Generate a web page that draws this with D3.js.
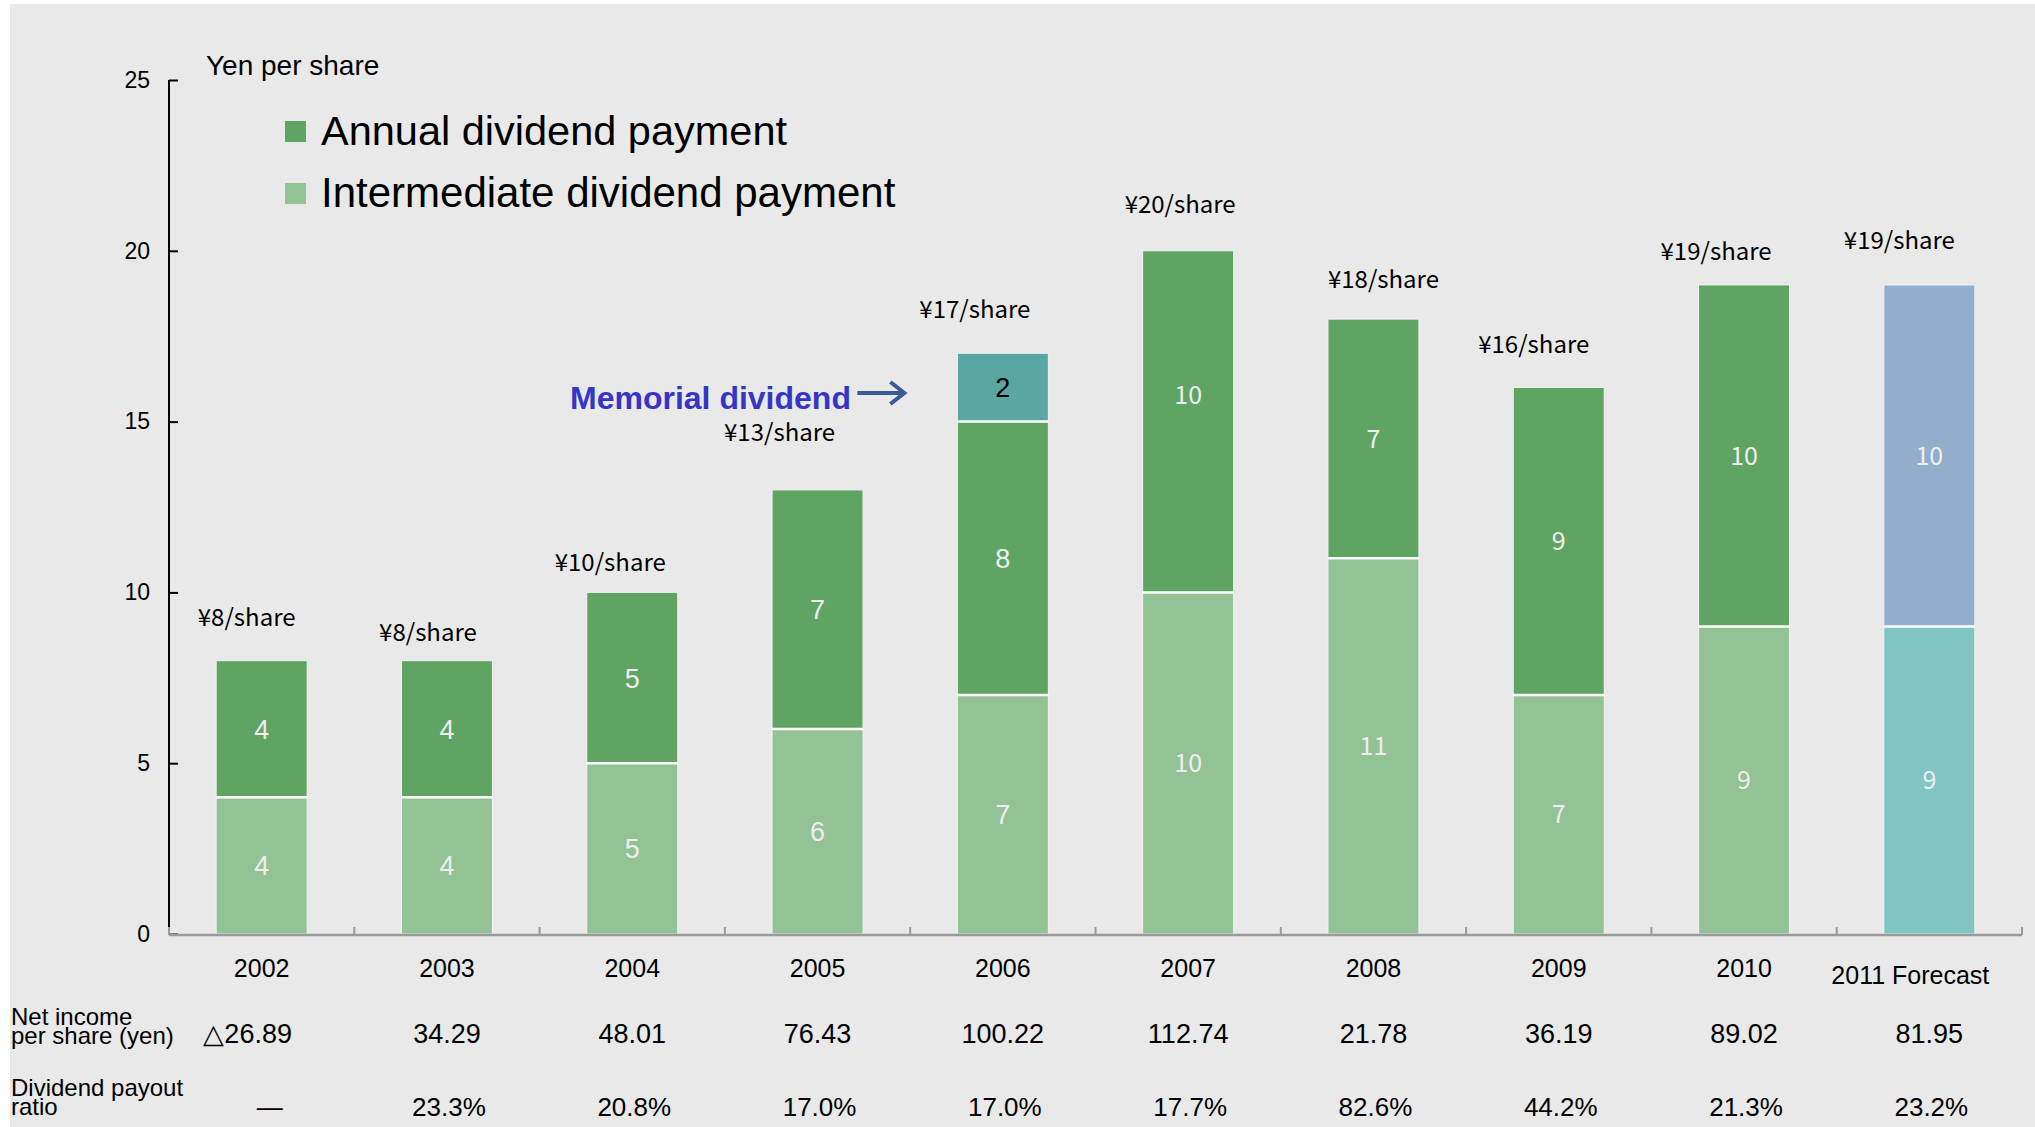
<!DOCTYPE html>
<html><head><meta charset="utf-8">
<script src="https://cdn.jsdelivr.net/npm/d3@7"></script>
<style>
html,body{margin:0;padding:0;background:#fff;}
svg{display:block;}
</style></head><body>
<svg id="c" width="2035" height="1127"></svg>
<script>
// ---------- data ----------
const categories   = ["2002","2003","2004","2005","2006","2007","2008","2009","2010","2011 Forecast"];
const intermediate = [4, 4, 5, 6, 7, 10, 11, 7, 9, 9];
const annual       = [4, 4, 5, 7, 8, 10, 7, 9, 10, 10];
const memorial     = [0, 0, 0, 0, 2, 0, 0, 0, 0, 0];
const isForecast   = [false,false,false,false,false,false,false,false,false,true];
const netIncome    = ["△26.89","34.29","48.01","76.43","100.22","112.74","21.78","36.19","89.02","81.95"];
const payoutRatio  = ["—","23.3%","20.8%","17.0%","17.0%","17.7%","82.6%","44.2%","21.3%","23.2%"];
const yTicks       = [0, 5, 10, 15, 20, 25];
const legendLabels = ["Annual dividend payment","Intermediate dividend payment"];

// ---------- layout / style (not data) ----------
const W = 2035, H = 1127;
const colors = {
  intermediate: "#93c295", annual: "#5fa463", memorial: "#5aa6a3",
  fcIntermediate: "#80c4c3", fcAnnual: "#93aecd"
};
// per-label nudges of the "¥x/share" captions, in px (dx, dy from bar top)
const capDx = [-15,-19,-22,-38,-28,-8,10,-25,-28,-30];
const capDy = [-43,-28,-30,-58,-44,-46,-40,-43,-34,-45];
// vertical nudge of the annual-segment number labels, in px
const annualLabelDy = [0,0,0,0,0,-27,0,0,0,0];

const svg = d3.select("#c");
svg.append("rect").attr("x",10).attr("y",4).attr("width",W-10).attr("height",H-4).attr("fill","#e9e9e9");

const table = categories.map((c,i)=>({cat:c, intermediate:intermediate[i], annual:annual[i], memorial:memorial[i], fc:isForecast[i], i}));
const keys = ["intermediate","annual","memorial"];
const series = d3.stack().keys(keys)(table);

const x = d3.scaleBand().domain(categories).range([169, 2022]).paddingInner(0.509).paddingOuter(0.2545);
const y = d3.scaleLinear().domain([0,25]).range([934, 80]);
const step = x.step();
const y0 = y(0);

// y axis
const yAxis = d3.axisLeft(y).tickValues(yTicks).tickSize(-9).tickPadding(19).tickFormat(d3.format("d"));
const gy = svg.append("g").attr("transform","translate(169,0)").call(yAxis);
gy.select(".domain").attr("stroke","#000").attr("stroke-width",2).attr("d",`M0,${y(25)}V${y0}`);
gy.selectAll(".tick line").attr("stroke","#000").attr("stroke-width",2);
gy.selectAll(".tick text").attr("font-family","'Liberation Sans', Arial, sans-serif").attr("font-size",23).attr("fill","#000");

// bars
const fillOf = (key, d) => {
  if (d.data.fc) return key==="annual" ? colors.fcAnnual : colors.fcIntermediate;
  return colors[key];
};
series.forEach(s => {
  const key = s.key;
  svg.append("g").selectAll("rect").data(s.filter(d => d[1]-d[0] > 0)).join("rect")
    .attr("x", d => x(d.data.cat))
    .attr("width", x.bandwidth())
    .attr("y", d => y(d[1]))
    .attr("height", d => y(d[0]) - y(d[1]))
    .attr("fill", d => fillOf(key, d))
    .attr("stroke", "#f2f2f2").attr("stroke-width", 1);
});
// white separators between segments
series.slice(1).forEach(s => {
  svg.append("g").selectAll("line").data(s.filter(d => d[1]-d[0] > 0)).join("line")
    .attr("x1", d => x(d.data.cat)).attr("x2", d => x(d.data.cat) + x.bandwidth())
    .attr("y1", d => y(d[0])).attr("y2", d => y(d[0]))
    .attr("stroke", "#ffffff").attr("stroke-width", 2.5);
});

// segment labels
series.forEach(s => {
  const key = s.key;
  svg.append("g").selectAll("text").data(s.filter(d => d[1]-d[0] > 0)).join("text")
    .attr("x", d => x(d.data.cat) + x.bandwidth()/2)
    .attr("y", d => (y(d[0]) + y(d[1]))/2 + (key === "annual" ? annualLabelDy[d.data.i] : 0))
    .attr("dy", "0.36em")
    .attr("text-anchor","middle")
    .attr("font-family", d => d.data.i >= 5 ? "'Noto Sans CJK JP', sans-serif" : "'Liberation Sans', Arial, sans-serif")
    .attr("font-size", d => d.data.i >= 5 ? 25 : 27)
    .attr("fill", key === "memorial" ? "#000" : "#eeeeee")
    .text(d => d[1]-d[0]);
});

// total captions
const totals = table.map(d => d.intermediate + d.annual + d.memorial);
svg.append("g").selectAll("text").data(table).join("text")
  .attr("x", d => x(d.cat) + x.bandwidth()/2 + capDx[d.i])
  .attr("y", d => y(totals[d.i]) + capDy[d.i])
  .attr("dy","0.36em")
  .attr("text-anchor","middle")
  .attr("font-family","'Noto Sans CJK JP', sans-serif")
  .attr("font-size",24)
  .attr("fill","#000")
  .text(d => `¥${totals[d.i]}/share`);

// x axis
const xr = x.range();
const gx = svg.append("g");
gx.append("line").attr("x1",xr[0]).attr("x2",xr[1]).attr("y1",y0+1).attr("y2",y0+1).attr("stroke","#9a9a9a").attr("stroke-width",2.5);
gx.selectAll("line.tk").data(d3.range(categories.length+1)).join("line").attr("class","tk")
  .attr("x1", i => xr[0] + i*step).attr("x2", i => xr[0] + i*step)
  .attr("y1", y0+1).attr("y2", y0-7).attr("stroke","#9a9a9a").attr("stroke-width",2);
gx.selectAll("text").data(table).join("text")
  .attr("x", d => x(d.cat) + x.bandwidth()/2 + (d.fc ? -19 : 0))
  .attr("y", d => d.fc ? 984 : 977)
  .attr("text-anchor","middle")
  .attr("font-family","'Liberation Sans', Arial, sans-serif")
  .attr("font-size",25).attr("fill","#000")
  .text(d => d.cat);

// y title
svg.append("text").attr("x",206).attr("y",75)
  .attr("font-family","'Liberation Sans', Arial, sans-serif").attr("font-size",28).attr("fill","#000")
  .text("Yen per share");

// legend
const legColors = [colors.annual, colors.intermediate];
const legSizes = [41.5, 42];
const lg = svg.append("g");
legendLabels.forEach((t,i) => {
  const yy = 121 + i*62;
  lg.append("rect").attr("x",285).attr("y",yy).attr("width",21).attr("height",21).attr("fill",legColors[i]);
  lg.append("text").attr("x",321).attr("y",yy+24)
    .attr("font-family","'Liberation Sans', Arial, sans-serif").attr("font-size",legSizes[i]).attr("fill","#000")
    .text(t);
});

// memorial annotation
svg.append("text").attr("x",570).attr("y",409)
  .attr("font-family","'Liberation Sans', Arial, sans-serif").attr("font-weight","bold")
  .attr("font-size",32).attr("fill","#3535c8")
  .text("Memorial dividend");
const ax = x(categories[4]) - 100, ay = 393;
svg.append("path").attr("d", `M${ax},${ay}H${ax+46}`).attr("stroke","#3d5a98").attr("stroke-width",4).attr("fill","none");
svg.append("path").attr("d", `M${ax+33},${ay-11}L${ax+47},${ay}L${ax+33},${ay+11}`).attr("stroke","#3d5a98").attr("stroke-width",4).attr("fill","none").attr("stroke-linejoin","miter");

// table rows
const rowFont = "'Liberation Sans', Arial, sans-serif";
const rowLabels = [["Net income","per share (yen)", 1025], ["Dividend payout","ratio", 1096]];
rowLabels.forEach(r => {
  const t = svg.append("text").attr("font-family",rowFont).attr("font-size",24).attr("fill","#000");
  t.append("tspan").attr("x",11).attr("y",r[2]).text(r[0]);
  t.append("tspan").attr("x",11).attr("y",r[2]+19).text(r[1]);
});
svg.append("g").selectAll("text").data(table).join("text")
  .attr("x", d => x(d.cat) + x.bandwidth()/2 + (d.i===0 ? -14 : 0))
  .attr("y", 1043)
  .attr("text-anchor","middle").attr("font-family",rowFont).attr("font-size",27).attr("fill","#000")
  .text(d => netIncome[d.i]);
svg.append("g").selectAll("text").data(table).join("text")
  .attr("x", d => x(d.cat) + x.bandwidth()/2 + (d.i===0 ? 8 : 2))
  .attr("y", 1116)
  .attr("text-anchor","middle").attr("font-family",rowFont).attr("font-size",26).attr("fill","#000")
  .text(d => payoutRatio[d.i]);
</script>
</body></html>
